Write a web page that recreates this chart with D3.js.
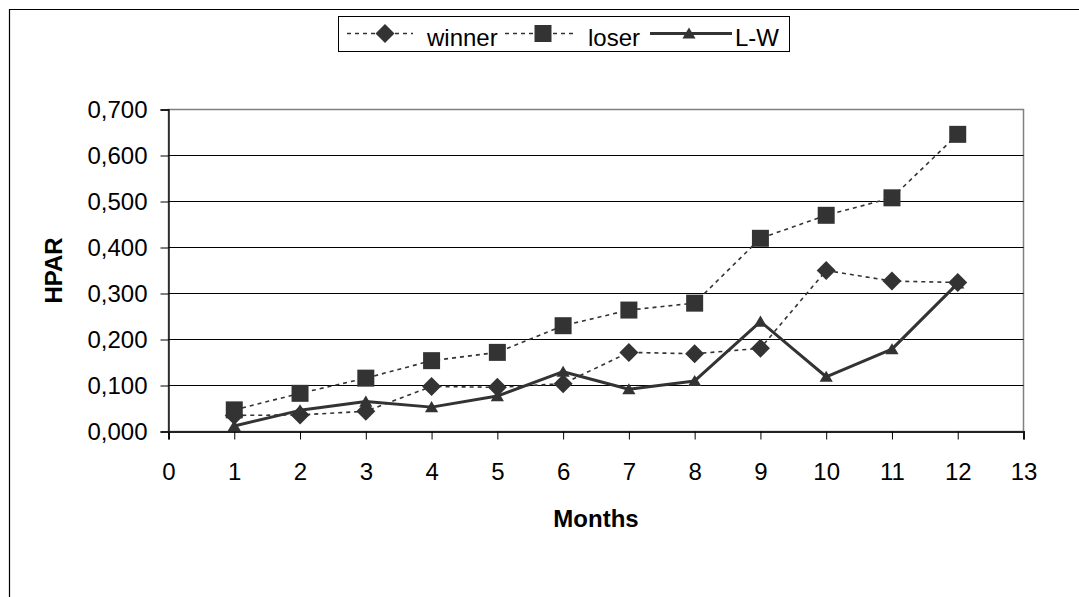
<!DOCTYPE html>
<html>
<head>
<meta charset="utf-8">
<script src="https://cdn.jsdelivr.net/npm/d3@7"></script>
<style>
  body { margin: 0; background: #fff; }
  svg { display: block; font-family: Arial, "Liberation Sans", sans-serif; }
</style>
</head>
<body>
<script>
var months = [1, 2, 3, 4, 5, 6, 7, 8, 9, 10, 11, 12];
var winner = [0.035, 0.036, 0.044, 0.098, 0.096, 0.104, 0.172, 0.169, 0.181, 0.350, 0.327, 0.324];
var loser = [0.047, 0.083, 0.116, 0.154, 0.172, 0.230, 0.264, 0.279, 0.420, 0.470, 0.508, 0.646];
var lw = [0.012, 0.046, 0.065, 0.053, 0.077, 0.130, 0.092, 0.110, 0.239, 0.119, 0.179, 0.322];
var xTicks = d3.range(0, 14);
var yTicks = [0, 0.1, 0.2, 0.3, 0.4, 0.5, 0.6, 0.7];
var seriesNames = ['winner', 'loser', 'L-W'];

var width = 1079;
var height = 597;
var ink = '#333333';

var x = d3.scaleLinear().domain([0, 13]).range([168.5, 1023.5]);
var y = d3.scaleLinear().domain([0, 0.7]).range([431.5, 109.5]);
var fmt = d3.formatLocale({decimal: ',', thousands: '.', grouping: [3], currency: ['', '']}).format('.3f');

var svg = d3.select('body').append('svg').attr('width', width).attr('height', height);

// outer chart border (cropped on right and bottom)
svg.append('path').attr('d', 'M9.5,' + height + 'V9.5H' + width).attr('fill', 'none').attr('stroke', '#000').attr('stroke-width', 1.2);

// plot area border
svg.append('rect').attr('x', x(0)).attr('y', y(0.7)).attr('width', x(13) - x(0)).attr('height', y(0) - y(0.7))
  .attr('fill', '#fff').attr('stroke', '#808080').attr('stroke-width', 1.5);

// gridlines
svg.append('g').selectAll('line').data(yTicks.slice(1, -1)).enter().append('line')
  .attr('x1', x(0)).attr('x2', x(13)).attr('y1', y).attr('y2', y)
  .attr('stroke', '#000').attr('stroke-width', 1);

var yAxis = svg.append('g').attr('transform', 'translate(' + x(0) + ',0)')
  .call(d3.axisLeft(y).tickValues(yTicks).tickFormat(fmt).tickSize(8).tickPadding(13));
var xAxis = svg.append('g').attr('transform', 'translate(0,' + y(0) + ')')
  .call(d3.axisBottom(x).tickValues(xTicks).tickFormat(d3.format('d')).tickSize(8).tickPadding(23));
[yAxis, xAxis].forEach(function (g) {
  g.select('.domain').attr('stroke', '#000').attr('stroke-width', 1.3);
  g.selectAll('.tick line').attr('stroke', '#000');
  g.selectAll('text').attr('font-size', 24).attr('fill', '#000').attr('font-family', 'Arial, "Liberation Sans", sans-serif');
});
xAxis.select('.domain').attr('stroke-width', 2).attr('stroke', '#222');

svg.append('text').attr('x', (x(0) + x(13)) / 2).attr('y', 527).attr('text-anchor', 'middle')
  .attr('font-size', 24).attr('font-weight', 'bold').text('Months');
svg.append('text').attr('transform', 'translate(62,' + (y(0) + y(0.7)) / 2 + ') rotate(-90)').attr('text-anchor', 'middle')
  .attr('font-size', 24).attr('font-weight', 'bold').text('HPAR');

function diamond(r) { return 'M0,' + -r + 'L' + r + ',0L0,' + r + 'L' + -r + ',0Z'; }
function square(r) { return 'M' + -r + ',' + -r + 'H' + r + 'V' + r + 'H' + -r + 'Z'; }
function triangle(r) { return 'M0,' + -r + 'L' + r * 1.1 + ',' + r * 0.85 + 'H' + -r * 1.1 + 'Z'; }

var styles = [
  {values: winner, dash: '4,4', width: 1.6, marker: diamond(9.5)},
  {values: loser, dash: '4,4', width: 1.6, marker: square(8.5)},
  {values: lw, dash: null, width: 3, marker: triangle(6)}
];

var line = d3.line().x(function (d) { return x(d[0]); }).y(function (d) { return y(d[1]); });

styles.forEach(function (s) {
  var pts = months.map(function (m, i) { return [m, s.values[i]]; });
  svg.append('path').attr('d', line(pts)).attr('fill', 'none').attr('stroke', ink)
    .attr('stroke-width', s.width).attr('stroke-dasharray', s.dash).attr('stroke-linejoin', 'round');
  svg.append('g').selectAll('path').data(pts).enter().append('path')
    .attr('transform', function (d) { return 'translate(' + x(d[0]) + ',' + y(d[1]) + ')'; })
    .attr('d', s.marker).attr('fill', ink);
});

// legend
var legend = svg.append('g');
legend.append('rect').attr('x', 338.5).attr('y', 16.5).attr('width', 451).attr('height', 35)
  .attr('fill', '#fff').attr('stroke', '#000').attr('stroke-width', 1);
var legendX = [[347, 413, 385, 427], [505, 575, 543, 588], [650, 732, 689, 735]];
seriesNames.forEach(function (name, i) {
  var s = styles[i], p = legendX[i];
  legend.append('line').attr('x1', p[0]).attr('x2', p[1]).attr('y1', 33.5).attr('y2', 33.5)
    .attr('stroke', ink).attr('stroke-width', s.width).attr('stroke-dasharray', s.dash);
  legend.append('path').attr('transform', 'translate(' + p[2] + ',33.5)').attr('d', s.marker).attr('fill', ink);
  legend.append('text').attr('x', p[3]).attr('y', 46).attr('font-size', 24).text(name);
});
</script>
</body>
</html>
